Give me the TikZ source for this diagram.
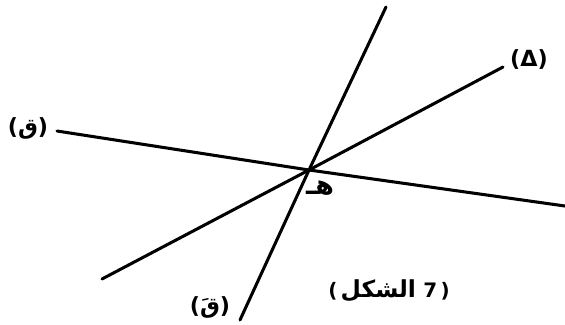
\documentclass[tikz,border=0pt]{standalone}
\usepackage{fontspec}
\newfontfamily\arabicfont[Script=Arabic]{DejaVu Sans}
\newfontfamily\latinfont{DejaVu Sans}
\TeXXeTstate=1

\begin{document}
\begin{tikzpicture}[
    x=0.03cm,
    y=-0.03cm,
    line width=2.6pt,
    line cap=round,
    lbl/.style={font=\bfseries\fontsize{19}{21}\selectfont, inner sep=0pt},
]

% Frame of the figure, 565 x 324 units
\useasboundingbox (0,0) rectangle (565,324);

% Ends of the three lines
\coordinate (Q1) at (57,131);
\coordinate (Q2) at (565,206);
\coordinate (D1) at (102,279);
\coordinate (D2) at (503,67);
\coordinate (P1) at (386,7);
\coordinate (P2) at (240,320);

% Common point
\coordinate (H) at (309,170);

% Lines
\draw (Q1) -- (H) -- (Q2);
\draw (D1) -- (H) -- (D2);
\draw (P2) -- (H) -- (P1);

% Names of the lines
\node[lbl] (q) at (28,128) {{\latinfont(}{\arabicfont\beginR ق\endR}{\latinfont)}};
\node[lbl] (delta) at (529,60) {\latinfont(Δ)};
\node[lbl] (qq) at (210,307) {{\latinfont(}{\arabicfont\beginR قَ\endR}{\latinfont)}};

% Name of the common point
\node[lbl, font=\bfseries\fontsize{23}{25}\selectfont] (h) at (320,188) {\arabicfont\beginR هـ\endR};

% Caption
\node[lbl, font=\bfseries\fontsize{17}{19}\selectfont] (cap) at (389,291)
    {{\latinfont(}\,{\arabicfont\fontsize{20}{22}\selectfont\beginR الشكل\endR}\ {\latinfont 7\,)}};

\end{tikzpicture}
\end{document}
